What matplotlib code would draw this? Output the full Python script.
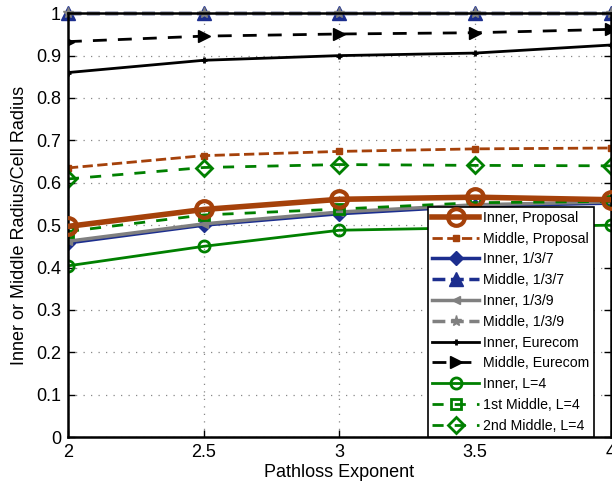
import numpy as np
import matplotlib
matplotlib.use('Agg')
import matplotlib.pyplot as plt

plt.rcParams['font.family'] = ['Liberation Sans', 'DejaVu Sans']

# Pathloss exponent values
pathloss = [2, 2.5, 3, 3.5, 4]

# Radius ratios
inner_proposal = [0.497, 0.537, 0.561, 0.566, 0.560]
middle_proposal = [0.635, 0.664, 0.674, 0.680, 0.682]
inner_137 = [0.458, 0.500, 0.527, 0.545, 0.552]
middle_137 = [1.0, 1.0, 1.0, 1.0, 1.0]
inner_139 = [0.462, 0.503, 0.531, 0.548, 0.555]
middle_139 = [1.0, 1.0, 1.0, 1.0, 1.0]
inner_eurecom = [0.860, 0.889, 0.900, 0.906, 0.925]
middle_eurecom = [0.933, 0.946, 0.951, 0.954, 0.962]
inner_l4 = [0.404, 0.450, 0.488, 0.494, 0.500]
middle1_l4 = [0.485, 0.524, 0.538, 0.553, 0.556]
middle2_l4 = [0.609, 0.636, 0.643, 0.641, 0.640]

brown = '#A5410A'
blue = '#1C2E8E'
gray = '#808080'
green = '#008000'

fig = plt.figure(figsize=(6.12, 4.90), dpi=100)
ax = fig.add_axes([0.111, 0.108, 0.887, 0.865])

ax.plot(pathloss, inner_proposal, '-', color=brown, lw=4, marker='o', ms=12,
        mfc='none', mew=3, label='Inner, Proposal', zorder=3)
ax.plot(pathloss, middle_proposal, '--', color=brown, lw=2, marker='s', ms=5,
        mfc=brown, label='Middle, Proposal')
ax.plot(pathloss, inner_137, '-', color=blue, lw=2.5, marker='D', ms=7,
        mfc=blue, label='Inner, 1/3/7')
ax.plot(pathloss, middle_137, '--', color=blue, lw=2.5, marker='^', ms=10,
        mfc=blue, label='Middle, 1/3/7', clip_on=False)
ax.plot(pathloss, inner_139, '-', color=gray, lw=2.5, marker='<', ms=6,
        mfc=gray, label='Inner, 1/3/9')
ax.plot(pathloss, middle_139, '--', color=gray, lw=2.5, marker='*', ms=8,
        mfc=gray, label='Middle, 1/3/9', clip_on=False)
ax.plot(pathloss, inner_eurecom, '-', color='black', lw=2, marker='+', ms=5,
        mew=2, label='Inner, Eurecom')
ax.plot(pathloss, middle_eurecom, '--', color='black', lw=2, marker='>', ms=8,
        mfc='black', label='Middle, Eurecom', dashes=(5, 4))
ax.plot(pathloss, inner_l4, '-', color=green, lw=2, marker='o', ms=8,
        mfc='none', mew=2, label='Inner, L=4')
ax.plot(pathloss, middle1_l4, '--', color=green, lw=2, marker='s', ms=7,
        mfc='none', mew=2, label='1st Middle, L=4', dashes=(4, 4))
ax.plot(pathloss, middle2_l4, '--', color=green, lw=2, marker='D', ms=8,
        mfc='none', mew=2, label='2nd Middle, L=4', dashes=(4, 4))

ax.set_xlim(2, 4)
ax.set_ylim(0, 1)
ax.set_xticks(pathloss)
ax.set_xticklabels(['2', '2.5', '3', '3.5', '4'])
ax.set_yticks(np.arange(0, 1.01, 0.1))
ax.set_yticklabels(['0', '0.1', '0.2', '0.3', '0.4', '0.5', '0.6', '0.7', '0.8', '0.9', '1'])

ax.grid(True, color='#888888', linestyle=(0, (1, 5)), linewidth=0.9)
ax.tick_params(direction='in', length=5, width=1, top=True, right=True,
               labelsize=13, pad=5)
for sp in ax.spines.values():
    sp.set_linewidth(1.8)

ax.set_xlabel('Pathloss Exponent', fontsize=13, labelpad=2)
ax.set_ylabel('Inner or Middle Radius/Cell Radius', fontsize=13, labelpad=6)

leg = ax.legend(loc='lower right', bbox_to_anchor=(0.969, 0.0), borderaxespad=0,
                fontsize=10.2, fancybox=False, framealpha=1, edgecolor='black',
                handlelength=3.3, handletextpad=0.3, labelspacing=0.48,
                borderpad=0.3)
leg.get_frame().set_linewidth(1.2)

plt.savefig('out.png', dpi=100)
